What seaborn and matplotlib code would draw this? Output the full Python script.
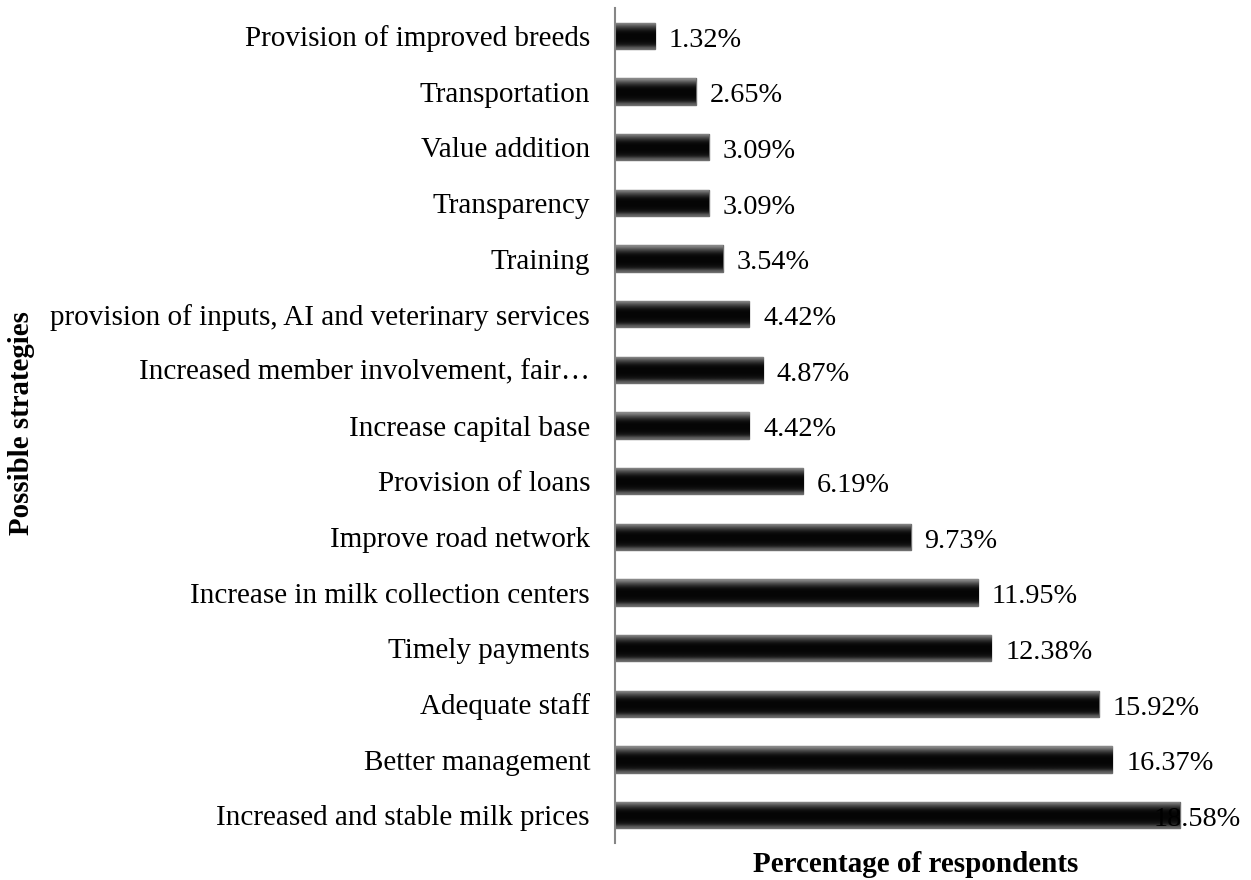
import numpy as np
import pandas as pd
import matplotlib
matplotlib.use("Agg")
import matplotlib.pyplot as plt
import seaborn as sns

strategies = [
    "Provision of improved breeds",
    "Transportation",
    "Value addition",
    "Transparency",
    "Training",
    "provision of inputs, AI and veterinary services",
    "Increased member involvement, fair\u2026",
    "Increase capital base",
    "Provision of loans",
    "Improve road network",
    "Increase in milk collection centers",
    "Timely payments",
    "Adequate staff",
    "Better management",
    "Increased and stable milk prices",
]
percentages = [1.32, 2.65, 3.09, 3.09, 3.54, 4.42, 4.87, 4.42, 6.19, 9.73,
               11.95, 12.38, 15.92, 16.37, 18.58]
value_labels = ["1.32%", "2.65%", "3.09%", "3.09%", "3.54%", "4.42%", "4.87%",
                "4.42%", "6.19%", "9.73%", "11.95%", "12.38%", "15.92%",
                "16.37%", "18.58%"]

df = pd.DataFrame({"Strategy": strategies, "Pct": percentages})

sns.set_style("white")
plt.rcParams["font.family"] = ["Liberation Serif", "DejaVu Serif"]
plt.rcParams["text.color"] = "black"
plt.rcParams["ytick.color"] = "black"
plt.rcParams["axes.labelcolor"] = "black"

fig = plt.figure(figsize=(12.51, 8.8), dpi=100)
W, H = 1251, 880
ax = fig.add_axes([615 / W, 1 - 843 / H, (1238 - 615) / W, (843 - 8) / H])

sns.barplot(data=df, y="Strategy", x="Pct", order=strategies, color="#050505",
            width=0.47, ax=ax, orient="h", zorder=3)

ax.set_xlim(0, 20.5)
ax.set_ylim(len(strategies) - 0.5, -0.5)

# gradient shading on each bar (bevel look)
grad = np.array([0.55, 0.35, 0.2, 0.08, 0.03, 0.02, 0.02, 0.03, 0.06, 0.12, 0.4]).reshape(-1, 1)
for p in ax.patches:
    x0, y0 = p.get_x(), p.get_y()
    w, h = p.get_width(), p.get_height()
    p.set_edgecolor("#6e6e6e")
    p.set_linewidth(1.0)
    im = ax.imshow(grad, cmap="gray", vmin=0, vmax=1, aspect="auto",
                   extent=[x0, x0 + w, y0 + h, y0], interpolation="bicubic",
                   zorder=3.5)
    im.set_clip_path(p)

# value labels (last one sits partly over the bar, as in the reference)
for i, (v, lab) in enumerate(zip(percentages, value_labels)):
    if i == len(percentages) - 1:
        ax.text(17.72, i + 0.08, lab, va="center", ha="left", fontsize=20.3,
                color="black", zorder=5)
    else:
        ax.annotate(lab, xy=(v, i + 0.08), xytext=(10, 0), textcoords="offset points",
                    va="center", ha="left", fontsize=20.3, color="black", zorder=5)

ax.set_xticks([])
ax.tick_params(axis="y", length=0, pad=18, labelsize=21, labelcolor="black")
for s in ["top", "right", "bottom"]:
    ax.spines[s].set_visible(False)
ax.spines["left"].set_color("#868686")
ax.spines["left"].set_linewidth(1.5)
ax.spines["left"].set_zorder(6)

ax.set_ylabel("")
ax.set_xlabel("")
fig.text(916 / W, 1 - 851 / H, "Percentage of respondents", ha="center", va="top",
         fontsize=21, fontweight="bold", color="black")
fig.text(22 / W, 1 - 423 / H, "Possible strategies", rotation=90, ha="center",
         va="center", fontsize=20.8, fontweight="bold", color="black")

fig.savefig("out.png", dpi=100, facecolor="white")
